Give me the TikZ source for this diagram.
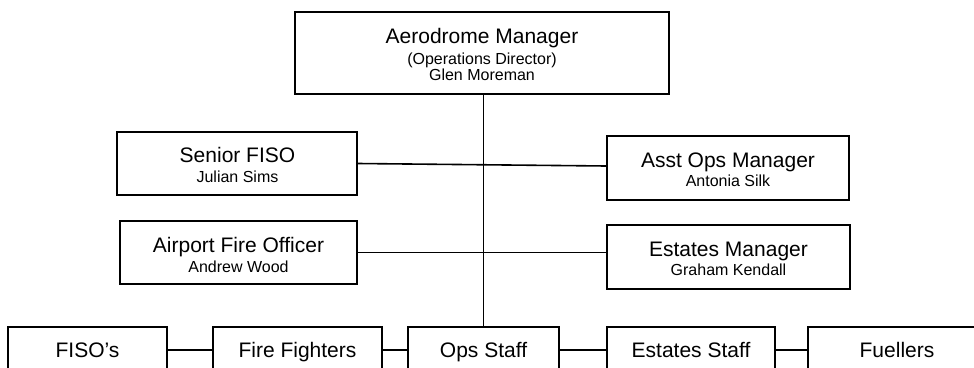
\documentclass[tikz,border=0pt]{standalone}
\usepackage{fontspec}
\setmainfont{Liberation Sans}
\begin{document}
\begin{tikzpicture}[x=1pt,y=-1pt,
  box/.style={draw=black,line width=1.6pt,rectangle,inner sep=0pt,fill=white},
  conn/.style={draw=black,line width=1.6pt},
  ttl/.style={inner sep=0pt,anchor=base,font=\fontsize{21}{21}\selectfont},
  sub/.style={inner sep=0pt,anchor=base,font=\fontsize{16}{16}\selectfont}]
\clip (0,0) rectangle (974,367);
\useasboundingbox (0,0) rectangle (974,367);
% boxes
\node[box,minimum width=374pt,minimum height=82pt] (top) at (482,53) {};
\node[box,minimum width=240pt,minimum height=63pt] (senior) at (237,163.5) {};
\node[box,minimum width=242pt,minimum height=64pt] (asst) at (728,168) {};
\node[box,minimum width=237pt,minimum height=63pt] (afo) at (238.5,252.5) {};
\node[box,minimum width=243pt,minimum height=64pt] (em) at (728.5,257) {};
\node[box,minimum width=159pt,minimum height=46pt] (fisos) at (87.5,350) {};
\node[box,minimum width=169pt,minimum height=46pt] (ff) at (297.5,350) {};
\node[box,minimum width=151pt,minimum height=46pt] (ops) at (483.5,350) {};
\node[box,minimum width=168pt,minimum height=46pt] (es) at (691,350) {};
\node[box,minimum width=178pt,minimum height=46pt] (fuel) at (897,350) {};
% connectors
\draw[conn] (ops.north) -- (ops.north |- top.south);
\draw[conn] (senior.east) -- ([yshift=2pt]asst.west);
\draw[conn] (afo.east) -- (afo.east -| em.west);
\draw[conn] (fisos.east) -- (ff.west);
\draw[conn] (ff.east) -- (ops.west);
\draw[conn] (ops.east) -- (es.west);
\draw[conn] (es.east) -- (fuel.west);
% texts
\node[ttl] (topT) at (482,43) {Aerodrome Manager};
\node[sub] (topS) at (482,64) {(Operations Director)};
\node[sub] (topN) at (482,80) {Glen Moreman};
\node[ttl] (seniorT) at (237.5,162) {Senior FISO};
\node[sub] (seniorN) at (237.5,182) {Julian Sims};
\node[ttl] (asstT) at (728,167) {Asst Ops Manager};
\node[sub] (asstN) at (728,186) {Antonia Silk};
\node[ttl] (afoT) at (238.5,252) {Airport Fire Officer};
\node[sub] (afoN) at (238.5,272) {Andrew Wood};
\node[ttl] (emT) at (728.5,256) {Estates Manager};
\node[sub] (emN) at (728.5,275) {Graham Kendall};
\node[ttl] (fisosT) at (87.5,357) {FISO’s};
\node[ttl] (ffT) at (297.5,357) {Fire Fighters};
\node[ttl] (opsT) at (483.5,357) {Ops Staff};
\node[ttl] (esT) at (691,357) {Estates Staff};
\node[ttl] (fuelT) at (897,357) {Fuellers};
\end{tikzpicture}
\end{document}
